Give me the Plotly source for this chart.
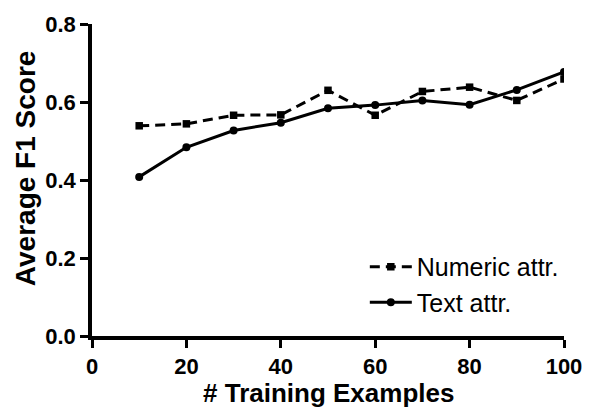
import plotly.graph_objects as go

training_examples = [10, 20, 30, 40, 50, 60, 70, 80, 90, 100]
numeric_f1 = [0.539, 0.544, 0.566, 0.567, 0.630, 0.566, 0.627, 0.638, 0.604, 0.659]
text_f1 = [0.408, 0.484, 0.527, 0.547, 0.584, 0.592, 0.604, 0.593, 0.631, 0.677]
x_ticks = [0, 20, 40, 60, 80, 100]
y_ticks = [0.0, 0.2, 0.4, 0.6, 0.8]

FONT = "Liberation Sans, Arial, sans-serif"

fig = go.Figure()
fig.add_trace(go.Scatter(
    x=training_examples, y=numeric_f1, mode="lines+markers", name="Numeric attr.",
    line=dict(color="black", width=3, dash="10px,6px"),
    marker=dict(symbol="square", size=7.5, color="black"),
))
fig.add_trace(go.Scatter(
    x=training_examples, y=text_f1, mode="lines+markers", name="Text attr.",
    line=dict(color="black", width=3),
    marker=dict(symbol="circle", size=8, color="black"),
))

axis_common = dict(
    showgrid=False, zeroline=False, showline=True, linecolor="black", linewidth=3.5,
    ticks="outside", ticklen=8, tickwidth=3, tickcolor="black",
    tickfont=dict(family=FONT, size=22, color="black", weight="bold"),
)

fig.update_layout(
    width=594, height=410,
    margin=dict(l=92, r=25, t=19, b=74),
    paper_bgcolor="white", plot_bgcolor="white",
    font=dict(family=FONT, color="black"),
    showlegend=True,
    legend=dict(
        x=0.578, y=0.295, xanchor="left", yanchor="top",
        bgcolor="rgba(0,0,0,0)",
        font=dict(family=FONT, size=25, color="black"),
        itemwidth=42,
    ),
    xaxis=dict(range=[0, 100], tickvals=x_ticks, **axis_common),
    yaxis=dict(range=[0, 0.8], tickvals=y_ticks, tickformat=".1f", **axis_common),
    annotations=[
        dict(text="# Training Examples", xref="paper", yref="paper", x=0.5, y=-0.183,
             xanchor="center", yanchor="middle", showarrow=False,
             font=dict(family=FONT, size=26, color="black", weight="bold")),
        dict(text="Average F1 Score", xref="paper", yref="paper", x=-0.1405, y=0.537,
             xanchor="center", yanchor="middle", textangle=-90, showarrow=False,
             font=dict(family=FONT, size=28, color="black", weight="bold")),
    ],
)

fig.write_html("out.html")
